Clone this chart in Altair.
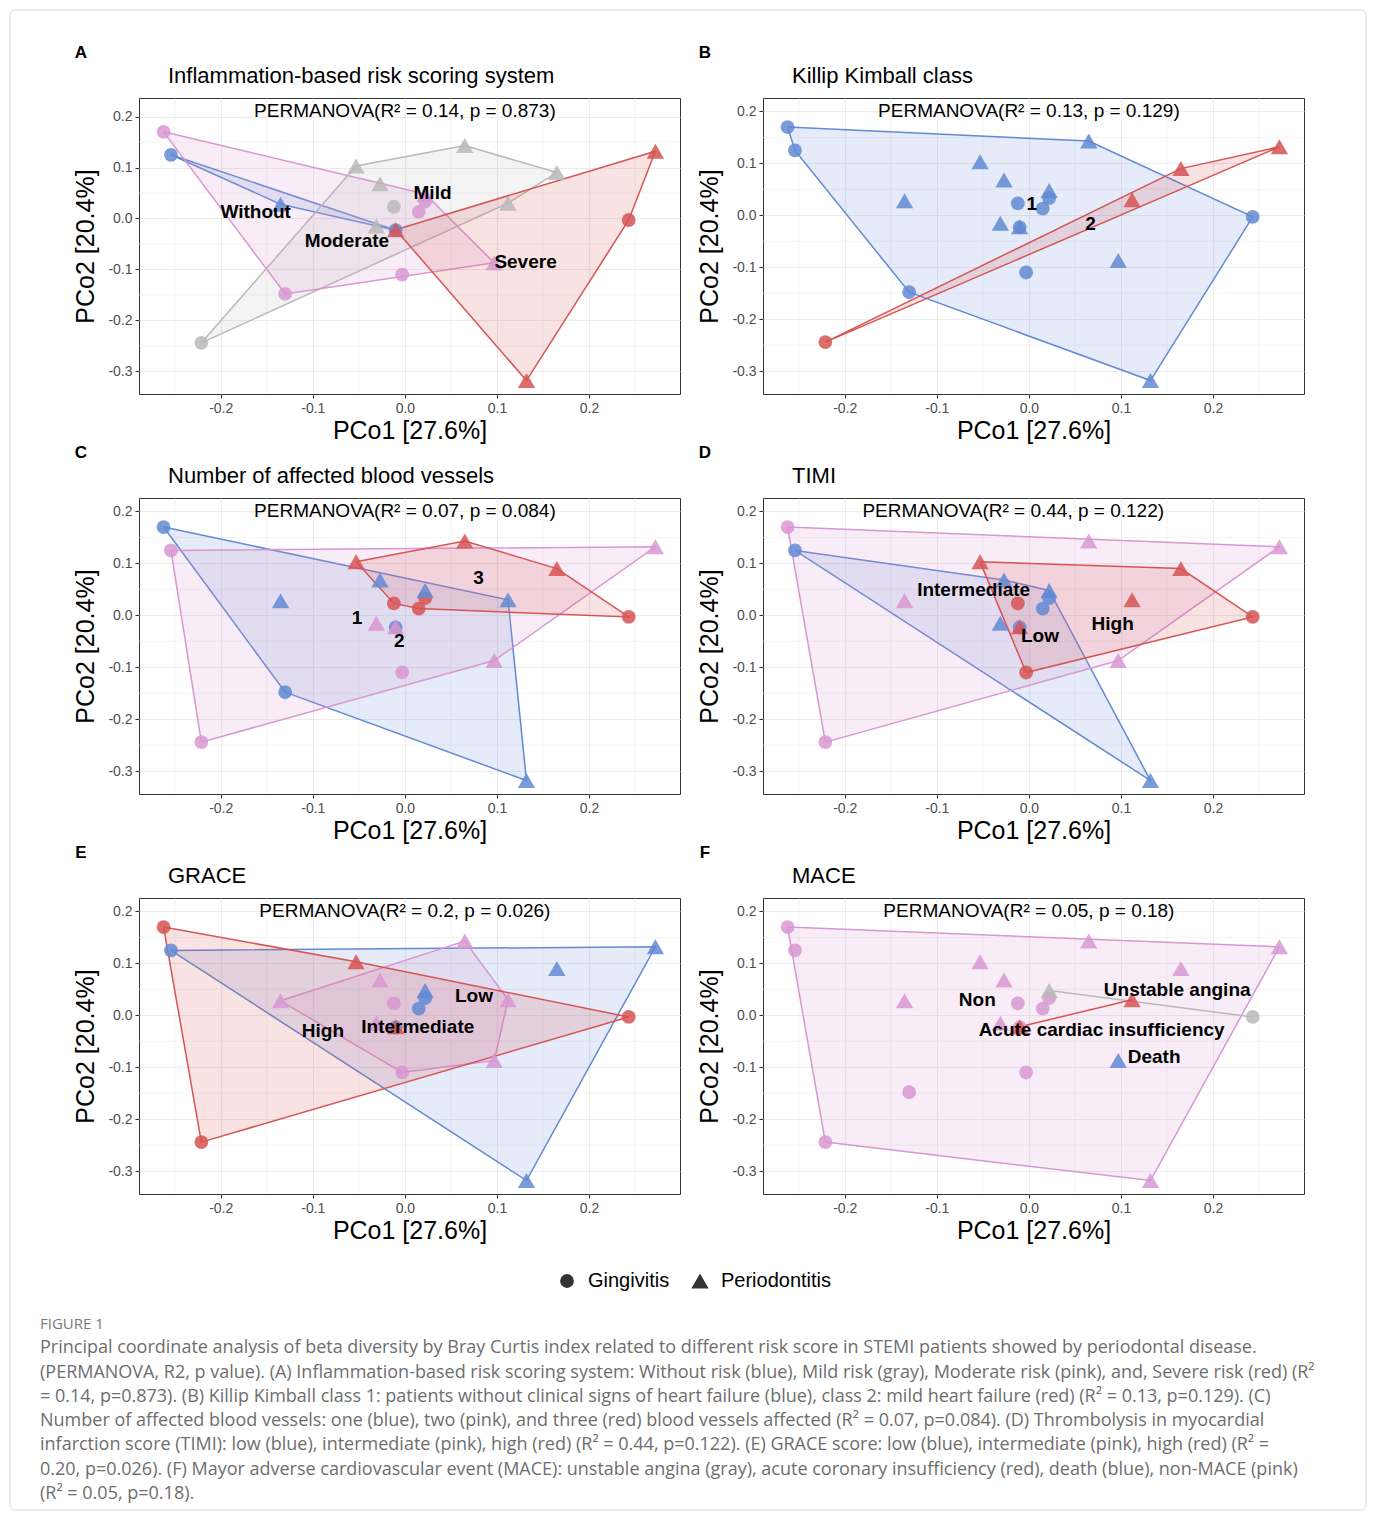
import altair as alt
import pandas as pd

# ---------------- data ----------------
PCO1 = [-0.262, -0.254, -0.221, -0.130, -0.012, 0.015, 0.022, -0.003, -0.010, 0.243,
        -0.135, -0.053, -0.027, -0.031, -0.010, 0.022, 0.065, 0.097, 0.112, 0.165, 0.272, 0.132]
PCO2 = [0.170, 0.125, -0.244, -0.148, 0.023, 0.013, 0.033, -0.110, -0.023, -0.003,
        0.028, 0.103, 0.068, -0.015, -0.022, 0.048, 0.143, -0.087, 0.030, 0.090, 0.132, -0.318]
STATUS = ["Gingivitis"] * 10 + ["Periodontitis"] * 12

GRP_A = ["Moderate", "Without", "Mild", "Moderate", "Mild", "Moderate", "Moderate", "Moderate",
         "Without", "Severe", "Without", "Mild", "Mild", "Mild", "Severe", "Moderate", "Mild",
         "Moderate", "Mild", "Mild", "Severe", "Severe"]
GRP_B = ["1", "1", "2", "1", "1", "1", "1", "1", "1", "1", "1", "1", "1", "1", "1", "1", "1",
         "1", "2", "2", "2", "1"]
GRP_C = ["1", "2", "2", "1", "3", "3", "3", "2", "1", "3", "1", "3", "1", "2", "2", "1", "3",
         "2", "1", "3", "2", "1"]
GRP_D = ["Intermediate", "Low", "Intermediate", "", "High", "Low", "Low", "High", "Low", "High",
         "Intermediate", "High", "Low", "Low", "High", "Low", "Intermediate", "Intermediate",
         "High", "High", "Intermediate", "Low"]
GRP_E = ["High", "Low", "High", "", "Intermediate", "Low", "Low", "Intermediate", "Low", "High",
         "Intermediate", "High", "Intermediate", "Intermediate", "High", "Low", "Intermediate",
         "Intermediate", "Intermediate", "Low", "Low", "Low"]
GRP_F = ["Non", "Non", "Non", "Non", "Non", "Non", "Non", "Non", "Non", "Unstable angina",
         "Non", "Non", "Non", "Non", "Acute cardiac insufficiency", "Unstable angina", "Non",
         "Death", "Acute cardiac insufficiency", "Non", "Non", "Non"]

BLUE, RED, PINK, GRAY = "#6289d4", "#d65454", "#d897d2", "#b9b9b9"

PANELS = ["A", "B", "C", "D", "E", "F"]
GROUPS = {"A": GRP_A, "B": GRP_B, "C": GRP_C, "D": GRP_D, "E": GRP_E, "F": GRP_F}
GROUP_ORDER = {
    "A": ["Without", "Mild", "Moderate", "Severe"],
    "B": ["1", "2"],
    "C": ["1", "2", "3"],
    "D": ["Low", "Intermediate", "High"],
    "E": ["Low", "Intermediate", "High"],
    "F": ["Non", "Unstable angina", "Acute cardiac insufficiency", "Death"],
}
GROUP_COLORS = {
    "A": [BLUE, GRAY, PINK, RED],
    "B": [BLUE, RED],
    "C": [BLUE, PINK, RED],
    "D": [BLUE, PINK, RED],
    "E": [BLUE, PINK, RED],
    "F": [PINK, GRAY, RED, BLUE],
}
TITLES = {"A": "Inflammation-based risk scoring system", "B": "Killip Kimball class",
          "C": "Number of affected blood vessels", "D": "TIMI", "E": "GRACE", "F": "MACE"}
PERMANOVA = {"A": "PERMANOVA(R² = 0.14, p = 0.873)", "B": "PERMANOVA(R² = 0.13, p = 0.129)",
             "C": "PERMANOVA(R² = 0.07, p = 0.084)", "D": "PERMANOVA(R² = 0.44, p = 0.122)",
             "E": "PERMANOVA(R² = 0.2, p = 0.026)", "F": "PERMANOVA(R² = 0.05, p = 0.18)"}
ANNOT_X = {"A": 0.0, "B": 0.0, "C": 0.0, "D": -0.017, "E": 0.0, "F": 0.0}
ANNOT_Y = {"A": 0.21, "B": 0.2, "C": 0.2, "D": 0.2, "E": 0.2, "F": 0.2}
LABEL_TEXT = {
    "A": ["Without", "Mild", "Moderate", "Severe"],
    "B": ["1", "2"],
    "C": ["1", "2", "3"],
    "D": ["Intermediate", "Low", "High"],
    "E": ["Low", "High", "Intermediate"],
    "F": ["Non", "Unstable angina", "Acute cardiac insufficiency", "Death"],
}
LABEL_X = {"A": [-0.162, 0.030, -0.063, 0.131], "B": [0.003, 0.067], "C": [-0.052, -0.006, 0.080],
           "D": [-0.060, 0.012, 0.091], "E": [0.075, -0.089, 0.014],
           "F": [-0.056, 0.161, 0.079, 0.136]}
LABEL_Y = {"A": [0.012, 0.050, -0.044, -0.085], "B": [0.022, -0.016], "C": [-0.005, -0.049, 0.071],
           "D": [0.049, -0.040, -0.016], "E": [0.038, -0.030, -0.022],
           "F": [0.029, 0.048, -0.028, -0.080]}
X_TICKS = [-0.2, -0.1, 0.0, 0.1, 0.2]
Y_TICKS = [-0.3, -0.2, -0.1, 0.0, 0.1, 0.2]
X_MINOR = [-0.25, -0.15, -0.05, 0.05, 0.15, 0.25]
Y_MINOR = [-0.35, -0.25, -0.15, -0.05, 0.05, 0.15, 0.25]

CAPTION_HEAD = "FIGURE 1"
CAPTION = [
    "Principal coordinate analysis of beta diversity by Bray Curtis index related to different risk score in STEMI patients showed by periodontal disease.",
    "(PERMANOVA, R2, p value). (A) Inflammation-based risk scoring system: Without risk (blue), Mild risk (gray), Moderate risk (pink), and, Severe risk (red) (R²",
    "= 0.14, p=0.873). (B) Killip Kimball class 1: patients without clinical signs of heart failure (blue), class 2: mild heart failure (red) (R² = 0.13, p=0.129). (C)",
    "Number of affected blood vessels: one (blue), two (pink), and three (red) blood vessels affected (R² = 0.07, p=0.084). (D) Thrombolysis in myocardial",
    "infarction score (TIMI): low (blue), intermediate (pink), high (red) (R² = 0.44, p=0.122). (E) GRACE score: low (blue), intermediate (pink), high (red) (R² =",
    "0.20, p=0.026). (F) Mayor adverse cardiovascular event (MACE): unstable angina (gray), acute coronary insufficiency (red), death (blue), non-MACE (pink)",
    "(R² = 0.05, p=0.18).",
]

FONT = "Liberation Sans"
PW, PH = 541, 296


def convex_hull(points):
    pts = sorted(set(points))
    if len(pts) <= 2:
        return pts

    def cross(o, a, b):
        return (a[0] - o[0]) * (b[1] - o[1]) - (a[1] - o[1]) * (b[0] - o[0])

    lower = []
    for p in pts:
        while len(lower) >= 2 and cross(lower[-2], lower[-1], p) <= 0:
            lower.pop()
        lower.append(p)
    upper = []
    for p in reversed(pts):
        while len(upper) >= 2 and cross(upper[-2], upper[-1], p) <= 0:
            upper.pop()
        upper.append(p)
    return lower[:-1] + upper[:-1]


def expand(lo, hi, f=0.05):
    d = (hi - lo) * f
    return [lo - d, hi + d]


shape_scale = alt.Scale(domain=["Gingivitis", "Periodontitis"], range=["circle", "triangle-up"])
size_scale = alt.Scale(domain=["Gingivitis", "Periodontitis"], range=[190, 300])
legend = alt.Legend(orient="none", legendX=418, legendY=1173, direction="horizontal", title=None,
                    labelFontSize=20, labelFont=FONT, labelColor="black",
                    symbolFillColor="#333333", symbolStrokeColor="#333333", symbolOpacity=1,
                    symbolStrokeWidth=0, columnPadding=20, labelOffset=11)
LABEL_EXPR = "replace(datum.label, '\u2212', '-')"


def panel(key):
    grp = GROUPS[key]
    cmap = dict(zip(GROUP_ORDER[key], GROUP_COLORS[key]))
    idx = [i for i in range(len(PCO1)) if grp[i] != ""]
    pts = pd.DataFrame({
        "x": [PCO1[i] for i in idx], "y": [PCO2[i] for i in idx],
        "status": [STATUS[i] for i in idx], "g": [grp[i] for i in idx],
        "c": [cmap[grp[i]] for i in idx], "n": list(range(len(idx))),
    })
    rows = []
    for g in GROUP_ORDER[key]:
        gp = [(PCO1[i], PCO2[i]) for i in idx if grp[i] == g]
        h = convex_hull(gp)
        if len(h) < 2:
            continue
        closed = h + [h[0]] if len(h) > 2 else h
        for k, (x, y) in enumerate(closed):
            rows.append({"g": g, "x": x, "y": y, "o": k, "c": cmap[g]})
    hull = pd.DataFrame(rows)

    xdom = expand(min(pts["x"]), max(pts["x"]))
    ydom = expand(min(pts["y"]), max(max(pts["y"]), ANNOT_Y[key]))
    xs = alt.Scale(domain=xdom, nice=False, zero=False)
    ys = alt.Scale(domain=ydom, nice=False, zero=False)
    xaxis = alt.Axis(values=X_TICKS, title="PCo1 [27.6%]", format=".1f", titlePadding=3,
                     labelPadding=3, labelExpr=LABEL_EXPR)
    yaxis = alt.Axis(values=Y_TICKS, title="PCo2 [20.4%]", format=".1f", titlePadding=9,
                     labelPadding=3, labelExpr=LABEL_EXPR)
    X = alt.X("x:Q", scale=xs, axis=xaxis)
    Y = alt.Y("y:Q", scale=ys, axis=yaxis)

    mx = pd.DataFrame({"x": [v for v in X_MINOR if xdom[0] < v < xdom[1]]})
    my = pd.DataFrame({"y": [v for v in Y_MINOR if ydom[0] < v < ydom[1]]})
    minor_x = alt.Chart(mx).mark_rule(color="#ededed", strokeWidth=0.6).encode(x=X)
    minor_y = alt.Chart(my).mark_rule(color="#ededed", strokeWidth=0.6).encode(y=Y)

    hull_layer = alt.Chart(hull).mark_line(strokeWidth=1.5, fillOpacity=0.17).encode(
        x=X, y=Y, color=alt.Color("c:N", scale=None), fill=alt.Fill("c:N", scale=None),
        detail="g:N", order="o:Q")
    points = alt.Chart(pts).mark_point(filled=True, opacity=0.85).encode(
        x=X, y=Y, color=alt.Color("c:N", scale=None),
        shape=alt.Shape("status:N", scale=shape_scale, legend=legend),
        size=alt.Size("status:N", scale=size_scale, legend=legend), order="n:Q")
    lab = pd.DataFrame({"t": LABEL_TEXT[key], "x": LABEL_X[key], "y": LABEL_Y[key]})
    labels = alt.Chart(lab).mark_text(font=FONT, fontSize=19, fontWeight="bold",
                                      color="black").encode(x=X, y=Y, text="t:N")
    ann = pd.DataFrame({"t": [PERMANOVA[key]], "x": [ANNOT_X[key]], "y": [ANNOT_Y[key]]})
    annot = alt.Chart(ann).mark_text(font=FONT, fontSize=19, color="black").encode(
        x=X, y=Y, text="t:N")
    head = pd.DataFrame({"t": [key]})
    letter = alt.Chart(head).mark_text(
        font=FONT, fontSize=17, fontWeight="bold", color="black", baseline="middle").encode(
        x=alt.value(-58), y=alt.value(-45), text="t:N")
    ttl = pd.DataFrame({"t": [TITLES[key]]})
    title = alt.Chart(ttl).mark_text(
        font=FONT, fontSize=22, color="black", align="left", baseline="middle").encode(
        x=alt.value(29), y=alt.value(-22), text="t:N")

    return alt.layer(minor_x, minor_y, hull_layer, points, labels, annot, letter,
                     title).properties(width=PW, height=PH)


cap_df = pd.DataFrame({"i": list(range(1, len(CAPTION) + 1)), "t": CAPTION})
head_df = pd.DataFrame({"i": [0], "t": [CAPTION_HEAD]})
cy = alt.Y("i:Q", scale=alt.Scale(domain=[-1.07, len(CAPTION)], nice=False, zero=False,
                                  reverse=True), axis=None)
cap_head = alt.Chart(head_df).mark_text(align="left", baseline="middle", font="Open Sans",
                                        fontSize=15, color="#7a7a7a").encode(
    x=alt.value(-99), y=cy, text="t:N")
cap_body = alt.Chart(cap_df).mark_text(align="left", baseline="middle", font="Open Sans",
                                       fontSize=18, color="#6e6e6e").encode(
    x=alt.value(-99), y=cy, text="t:N")
frame = alt.Chart(head_df).mark_rect(fillOpacity=0, stroke="#d9d9d9", strokeWidth=1,
                                     cornerRadius=6).encode(
    x=alt.value(-129), x2=alt.value(1227), y=alt.value(-1288), y2=alt.value(212))
caption = alt.layer(frame, cap_head, cap_body).properties(
    width=PW, height=196, view=alt.ViewBackground(strokeOpacity=0))

chart = alt.concat(*[panel(k) for k in PANELS], caption, columns=2,
                   spacing={"row": 104, "column": 83}, bounds="flush").resolve_scale(
    x="independent", y="independent", shape="shared", size="shared").resolve_legend(
    shape="shared", size="shared").properties(
    padding={"left": 1, "top": 1, "right": 0, "bottom": 0}, background="white"
).configure_view(stroke="#333333", strokeWidth=1).configure_axis(
    labelFont=FONT, titleFont=FONT, labelFontSize=14, labelColor="#4d4d4d",
    titleFontSize=25, titleFontWeight="normal", titleColor="black",
    tickColor="#333333", tickSize=4, tickWidth=1, domain=False,
    gridColor="#ebebeb", gridWidth=1.1
)

chart.save("out.html", embed_options={"renderer": "svg", "actions": False})
